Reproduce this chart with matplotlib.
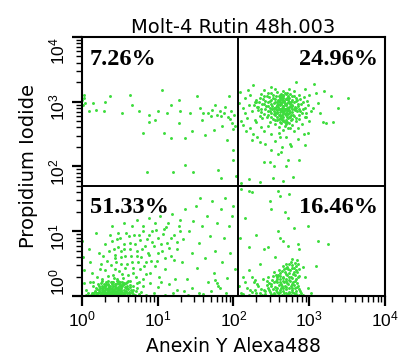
import numpy as np
import matplotlib.pyplot as plt
from matplotlib.ticker import FixedLocator, LogLocator, FuncFormatter, NullFormatter

plt.rcParams['font.family'] = 'DejaVu Sans'
plt.rcParams['mathtext.fontset'] = 'custom'
plt.rcParams['mathtext.rm'] = 'Liberation Sans'
plt.rcParams['mathtext.it'] = 'Liberation Sans'
plt.rcParams['mathtext.default'] = 'rm'

title = 'Molt-4 Rutin 48h.003'
x_label = 'Anexin Y Alexa488'
y_label = 'Propidium Iodide'
gate_x = 115
gate_y = 50
decades = [1, 10, 100, 1000, 10000]
# quadrant percentages: UL, UR, LL, LR
quad_pct = ['7.26%', '24.96%', '51.33%', '16.46%']

# events as (log10 Annexin, log10 PI)
upper_left = [
    (0.02, 3.10), (0.04, 2.98), (0.09, 2.85), (0.15, 2.98), (0.18, 2.87), (0.29, 2.85),
    (0.31, 3.00), (0.37, 3.08), (0.53, 2.82), (0.64, 3.10), (0.66, 2.95), (0.75, 2.85),
    (0.81, 2.51), (0.86, 1.92), (0.88, 2.80), (0.88, 2.69), (0.97, 2.72), (1.01, 2.85),
    (1.06, 3.18), (1.08, 2.51), (1.12, 2.82), (1.17, 2.95), (1.17, 2.44), (1.28, 3.03),
    (1.28, 2.67), (1.30, 2.85), (1.36, 2.44), (1.36, 2.02), (1.43, 2.82), (1.45, 2.54),
    (1.47, 1.92), (1.52, 3.08), (1.56, 2.90), (1.58, 2.72), (1.63, 2.49), (1.67, 2.82),
    (1.72, 2.87), (1.74, 2.56), (1.76, 2.95), (1.80, 1.95), (1.83, 1.82), (1.85, 2.62),
    (1.89, 2.92), (1.91, 2.41), (1.94, 3.08), (1.96, 2.74), (1.98, 2.67), (2.00, 2.26),
    (2.00, 2.10), (2.02, 2.62), (0.00, 3.02), (0.01, 2.95), (0.03, 3.05), (1.78, 2.80),
    (1.82, 2.85), (1.84, 2.78), (1.88, 2.83), (1.93, 2.76), (1.97, 2.86), (2.01, 2.80),
    (1.99, 2.58), (1.70, 2.78), (1.60, 2.82), (1.20, 1.92), (2.03, 1.85),
]

upper_right = [
    # main cluster
    (2.55, 3.19), (2.66, 3.17), (2.74, 3.20),
    (2.45, 3.13), (2.58, 3.15), (2.63, 3.12), (2.71, 3.14), (2.80, 3.16),
    (2.40, 3.09), (2.52, 3.11), (2.60, 3.08), (2.65, 3.10), (2.70, 3.12), (2.77, 3.09), (2.86, 3.11),
    (2.35, 3.05), (2.47, 3.07), (2.55, 3.04), (2.61, 3.06), (2.66, 3.08), (2.69, 3.04),
    (2.74, 3.06), (2.82, 3.05), (2.93, 3.07),
    (2.30, 3.03), (2.42, 3.01), (2.50, 3.02), (2.57, 3.00), (2.62, 3.03), (2.67, 3.01),
    (2.72, 3.02), (2.76, 3.00), (2.84, 3.03), (2.97, 3.01),
    (2.38, 2.97), (2.46, 2.99), (2.54, 2.98), (2.59, 2.96), (2.64, 2.99), (2.68, 2.97),
    (2.71, 2.98), (2.75, 2.96), (2.80, 2.99), (2.89, 2.97),
    (2.27, 2.95), (2.43, 2.93), (2.51, 2.94), (2.56, 2.92), (2.61, 2.95), (2.66, 2.93),
    (2.69, 2.95), (2.73, 2.92), (2.78, 2.94), (2.85, 2.93), (2.99, 2.95),
    (2.36, 2.89), (2.48, 2.91), (2.55, 2.90), (2.60, 2.88), (2.64, 2.91), (2.68, 2.89),
    (2.72, 2.90), (2.77, 2.88), (2.83, 2.91), (2.92, 2.89),
    (2.32, 2.87), (2.45, 2.85), (2.53, 2.86), (2.58, 2.84), (2.63, 2.87), (2.67, 2.85),
    (2.71, 2.86), (2.75, 2.84), (2.81, 2.87), (2.88, 2.85), (3.02, 2.86),
    (2.40, 2.81), (2.50, 2.83), (2.57, 2.82), (2.62, 2.80), (2.66, 2.83), (2.70, 2.81),
    (2.74, 2.82), (2.79, 2.80), (2.90, 2.83),
    (2.44, 2.77), (2.55, 2.79), (2.61, 2.78), (2.65, 2.76), (2.69, 2.79), (2.73, 2.77),
    (2.80, 2.78), (2.95, 2.76),
    (2.38, 2.75), (2.52, 2.73), (2.60, 2.74), (2.66, 2.72), (2.72, 2.75), (2.78, 2.73), (2.86, 2.74),
    (2.48, 2.69), (2.58, 2.71), (2.65, 2.70), (2.71, 2.68), (2.82, 2.70),
    (2.55, 2.65), (2.63, 2.67), (2.70, 2.66), (2.77, 2.64),
    (2.60, 2.61), (2.68, 2.63), (2.75, 2.60),
    (2.66, 2.57), (2.72, 2.59),
    (2.58, 2.93), (2.62, 2.97), (2.66, 2.91), (2.70, 2.95), (2.74, 2.99), (2.60, 3.01),
    (2.64, 2.85), (2.68, 2.81), (2.72, 2.87), (2.56, 2.88), (2.70, 3.04), (2.65, 3.05),
    (2.76, 2.92), (2.63, 2.89), (2.67, 2.99),
    (2.50, 3.13), (2.61, 3.11), (2.68, 3.13), (2.75, 3.12),
    (2.44, 3.08), (2.56, 3.09), (2.63, 3.07), (2.72, 3.08), (2.80, 3.09),
    (2.39, 3.04), (2.52, 3.05), (2.59, 3.03), (2.64, 3.04), (2.71, 3.05), (2.78, 3.03), (2.88, 3.04),
    (2.34, 3.00), (2.48, 3.01), (2.55, 2.99), (2.61, 3.00), (2.66, 3.02), (2.73, 2.99),
    (2.82, 3.01), (2.92, 3.00),
    (2.41, 2.96), (2.49, 2.97), (2.57, 2.95), (2.63, 2.96), (2.70, 2.97), (2.77, 2.95), (2.85, 2.96),
    (2.31, 2.92), (2.46, 2.93), (2.53, 2.91), (2.59, 2.92), (2.65, 2.94), (2.71, 2.91),
    (2.76, 2.93), (2.81, 2.92), (2.95, 2.91),
    (2.42, 2.88), (2.51, 2.89), (2.58, 2.87), (2.62, 2.88), (2.70, 2.89), (2.74, 2.87),
    (2.80, 2.88), (2.87, 2.89),
    (2.37, 2.84), (2.48, 2.85), (2.55, 2.83), (2.61, 2.84), (2.65, 2.85), (2.69, 2.83),
    (2.77, 2.84), (2.84, 2.85), (2.96, 2.83),
    (2.46, 2.80), (2.53, 2.81), (2.60, 2.79), (2.64, 2.80), (2.72, 2.81), (2.76, 2.79), (2.86, 2.80),
    (2.50, 2.76), (2.58, 2.77), (2.63, 2.75), (2.71, 2.76), (2.75, 2.77), (2.83, 2.75),
    (2.55, 2.72), (2.63, 2.73), (2.69, 2.71), (2.76, 2.72),
    (2.61, 2.68), (2.68, 2.69), (2.74, 2.67),
    # shoulder and tail
    (2.12, 2.90), (2.15, 3.05), (2.18, 2.75), (2.20, 2.95), (2.22, 3.10), (2.25, 2.85),
    (2.28, 3.00), (2.30, 2.68), (2.33, 2.92), (2.35, 2.78), (2.37, 3.12), (2.22, 2.60),
    (2.26, 2.50), (2.31, 2.45), (2.40, 2.55), (2.42, 2.35), (2.45, 2.62), (2.50, 2.50),
    (2.55, 2.40), (2.60, 2.52), (2.64, 2.30), (2.70, 2.45), (2.75, 2.35), (2.80, 2.55),
    (2.85, 2.60), (2.90, 2.65), (2.93, 2.50), (3.00, 2.70), (3.05, 2.90), (3.00, 3.10),
    (2.95, 3.20), (2.50, 3.22), (2.40, 3.18), (2.10, 2.70), (2.09, 3.15),
    # sparse events
    (2.08, 2.98), (2.13, 2.64), (2.15, 2.82), (2.17, 2.54), (2.19, 3.18), (2.24, 2.41),
    (2.26, 3.26), (2.28, 2.72), (2.30, 3.00), (2.35, 2.38), (2.37, 2.61), (2.41, 2.07),
    (2.48, 2.07), (2.50, 2.25), (2.52, 1.82), (2.54, 2.00), (2.59, 2.20), (2.61, 2.46),
    (2.63, 2.23), (2.72, 2.10), (2.76, 2.31), (2.79, 1.84), (2.83, 3.31), (2.85, 2.43),
    (2.87, 2.10), (2.94, 2.33), (2.96, 2.77), (2.98, 2.51), (3.07, 3.28), (3.09, 3.13),
    (3.12, 2.98), (3.14, 2.82), (3.18, 2.69), (3.20, 3.16), (3.22, 2.67), (3.29, 3.08),
    (3.31, 2.69), (3.38, 2.90), (3.51, 3.05), (2.10, 1.75), (2.20, 1.80), (2.35, 1.76),
    (2.65, 1.78), (2.70, 2.00),
]

lower_left = [
    # bottom cluster
    (0.12, 0.01), (0.18, 0.02), (0.22, 0.00), (0.26, 0.01), (0.29, 0.03), (0.32, 0.01),
    (0.35, 0.02), (0.38, 0.00), (0.41, 0.01), (0.44, 0.02), (0.47, 0.00), (0.51, 0.01),
    (0.56, 0.02), (0.62, 0.01), (0.70, 0.02),
    (0.15, 0.05), (0.20, 0.04), (0.24, 0.06), (0.27, 0.04), (0.30, 0.05), (0.33, 0.03),
    (0.36, 0.05), (0.39, 0.04), (0.42, 0.06), (0.46, 0.04), (0.50, 0.05), (0.55, 0.03), (0.60, 0.05),
    (0.17, 0.08), (0.23, 0.07), (0.28, 0.09), (0.31, 0.07), (0.34, 0.08), (0.37, 0.06),
    (0.40, 0.08), (0.44, 0.07), (0.48, 0.09), (0.53, 0.07), (0.58, 0.08), (0.66, 0.06),
    (0.20, 0.11), (0.26, 0.10), (0.30, 0.12), (0.34, 0.10), (0.38, 0.11), (0.42, 0.09),
    (0.47, 0.11), (0.52, 0.10), (0.59, 0.12),
    (0.14, 0.15), (0.24, 0.13), (0.31, 0.15), (0.36, 0.14), (0.41, 0.16), (0.45, 0.13),
    (0.50, 0.15), (0.57, 0.14), (0.68, 0.16),
    (0.21, 0.18), (0.29, 0.19), (0.35, 0.17), (0.43, 0.19), (0.49, 0.18), (0.55, 0.20), (0.63, 0.17),
    (0.10, 0.22), (0.27, 0.23), (0.38, 0.21), (0.46, 0.23), (0.53, 0.22), (0.61, 0.24), (0.75, 0.21),
    (0.16, 0.02), (0.21, 0.05), (0.25, 0.03), (0.28, 0.08), (0.31, 0.05), (0.33, 0.01),
    (0.36, 0.09), (0.38, 0.04), (0.40, 0.12), (0.43, 0.03), (0.45, 0.08), (0.49, 0.05),
    (0.52, 0.12), (0.54, 0.02), (0.57, 0.07), (0.61, 0.11), (0.64, 0.04), (0.68, 0.09),
    (0.30, 0.16), (0.34, 0.13), (0.39, 0.19), (0.44, 0.16), (0.47, 0.24), (0.51, 0.17),
    (0.58, 0.20), (0.25, 0.20), (0.19, 0.12), (0.23, 0.16), (0.35, 0.24), (0.42, 0.28),
    (0.13, 0.04), (0.17, 0.06), (0.19, 0.01), (0.22, 0.09), (0.24, 0.02), (0.26, 0.07),
    (0.27, 0.12), (0.29, 0.00), (0.30, 0.09), (0.32, 0.04), (0.33, 0.11), (0.35, 0.06),
    (0.36, 0.00), (0.37, 0.13), (0.39, 0.07), (0.40, 0.02), (0.41, 0.10), (0.43, 0.05),
    (0.44, 0.12), (0.46, 0.07), (0.47, 0.02), (0.48, 0.14), (0.50, 0.08), (0.51, 0.03),
    (0.53, 0.15), (0.55, 0.09), (0.56, 0.05), (0.58, 0.12), (0.60, 0.02), (0.62, 0.07),
    (0.63, 0.14), (0.65, 0.10), (0.67, 0.03), (0.71, 0.08), (0.73, 0.13), (0.78, 0.06),
    (0.28, 0.14), (0.32, 0.18), (0.37, 0.16), (0.41, 0.21), (0.45, 0.19), (0.50, 0.22),
    (0.54, 0.18), (0.60, 0.16), (0.27, 0.05), (0.34, 0.05), (0.42, 0.01), (0.49, 0.11),
    (0.37, 0.03), (0.45, 0.04),
    # spread towards higher PI / Annexin
    (0.09, 0.72), (0.11, 0.52), (0.13, 0.36), (0.15, 0.21), (0.18, 0.98), (0.22, 0.67),
    (0.24, 0.41), (0.26, 0.16), (0.31, 0.80), (0.33, 0.54), (0.35, 0.31), (0.37, 0.95),
    (0.40, 1.08), (0.42, 0.72), (0.44, 0.59), (0.44, 0.41), (0.46, 0.88), (0.46, 0.26),
    (0.48, 0.98), (0.51, 0.70), (0.51, 0.49), (0.53, 0.34), (0.55, 1.13), (0.55, 0.80),
    (0.57, 0.62), (0.57, 0.44), (0.59, 0.21), (0.62, 0.93), (0.64, 0.72), (0.66, 1.08),
    (0.66, 0.52), (0.68, 0.36), (0.70, 0.80), (0.73, 1.18), (0.73, 0.62), (0.75, 0.95),
    (0.77, 0.41), (0.79, 0.72), (0.81, 1.08), (0.81, 0.26), (0.84, 0.52), (0.86, 0.88),
    (0.88, 1.21), (0.88, 0.64), (0.90, 0.36), (0.92, 1.00), (0.95, 0.77), (0.97, 1.13),
    (0.99, 0.54), (1.01, 0.90), (1.03, 1.24), (1.06, 0.70), (1.08, 1.03), (1.10, 0.41),
    (1.12, 0.82), (1.14, 1.13), (1.17, 0.62), (1.19, 1.26), (1.21, 0.95), (1.23, 0.26),
    (1.25, 0.72), (1.28, 1.08), (1.30, 1.18), (1.32, 0.52), (1.34, 0.88), (1.36, 1.34),
    (1.39, 0.26), (1.41, 1.00), (1.45, 0.67), (1.47, 1.16), (1.50, 1.39), (1.52, 0.44),
    (1.54, 0.82), (1.56, 1.52), (1.58, 1.08), (1.63, 0.59), (1.65, 1.24), (1.67, 0.21),
    (1.69, 0.93), (1.72, 1.47), (1.74, 0.36), (1.76, 0.70), (1.78, 1.13), (1.80, 0.16),
    (1.83, 1.34), (1.85, 0.52), (1.87, 0.90), (1.89, 1.52), (1.91, 0.28), (1.94, 1.08),
    (1.96, 0.67), (1.98, 1.24), (2.00, 1.39), (2.02, 0.41),
    (0.20, 0.30), (0.25, 0.50), (0.28, 0.62), (0.30, 0.40), (0.32, 0.22), (0.36, 0.70),
    (0.38, 0.48), (0.39, 0.85), (0.41, 0.33), (0.43, 0.64), (0.45, 0.52), (0.47, 0.76),
    (0.49, 0.38), (0.50, 0.90), (0.52, 0.60), (0.54, 0.28), (0.56, 0.72), (0.58, 0.98),
    (0.60, 0.50), (0.61, 0.32), (0.63, 0.82), (0.65, 0.62), (0.67, 0.44), (0.69, 0.94),
    (0.71, 0.30), (0.72, 0.70), (0.74, 0.52), (0.76, 0.86), (0.78, 0.60), (0.80, 1.00),
    (0.82, 0.46), (0.83, 0.78), (0.85, 0.34), (0.87, 0.66), (0.89, 0.94), (0.91, 0.54),
    (0.93, 0.84), (0.96, 0.46), (0.98, 1.02), (1.00, 0.66), (1.02, 0.30), (1.04, 0.80),
    (1.07, 0.96), (1.09, 0.58), (1.11, 1.06), (1.15, 0.74), (1.18, 0.90), (1.22, 0.56),
    (1.26, 0.84), (1.29, 1.00), (0.27, 0.26), (0.34, 0.18), (0.40, 0.22), (0.48, 0.20),
    (0.56, 0.18), (0.64, 0.24), (0.72, 0.20), (0.80, 0.16), (0.90, 0.20), (1.00, 0.14),
    (1.05, 0.22), (1.15, 0.18), (1.25, 0.10), (1.35, 0.08), (1.45, 0.12), (1.55, 0.05),
    (1.70, 0.08), (1.78, 0.20), (1.76, 0.25), (1.82, 0.12), (0.02, 0.40), (0.01, 0.60),
    (0.03, 0.20), (0.00, 0.85), (0.05, 0.10),
    (0.75, 0.03), (0.85, 0.02), (0.95, 0.05), (1.10, 0.02), (1.20, 0.04), (1.40, 0.02),
    (1.60, 0.03), (1.90, 0.05), (0.05, 0.02), (0.08, 0.05),
]

lower_right = [
    (2.12, 0.03), (2.20, 0.01), (2.30, 0.04), (2.38, 0.02), (2.45, 0.00), (2.50, 0.03),
    (2.55, 0.01), (2.60, 0.04), (2.64, 0.02), (2.68, 0.00), (2.72, 0.03), (2.76, 0.01),
    (2.80, 0.04), (2.86, 0.02), (2.92, 0.01),
    (2.25, 0.07), (2.35, 0.05), (2.42, 0.08), (2.48, 0.06), (2.53, 0.05), (2.58, 0.07),
    (2.62, 0.06), (2.66, 0.08), (2.70, 0.05), (2.74, 0.07), (2.78, 0.06), (2.83, 0.08), (2.89, 0.05),
    (2.18, 0.12), (2.40, 0.10), (2.46, 0.12), (2.52, 0.11), (2.57, 0.13), (2.61, 0.10),
    (2.65, 0.12), (2.69, 0.11), (2.73, 0.13), (2.77, 0.10), (2.81, 0.12), (2.86, 0.11),
    (2.33, 0.15), (2.44, 0.17), (2.50, 0.16), (2.55, 0.14), (2.60, 0.17), (2.64, 0.15),
    (2.68, 0.16), (2.72, 0.18), (2.76, 0.15), (2.80, 0.17), (2.85, 0.16),
    (2.27, 0.22), (2.47, 0.20), (2.53, 0.22), (2.58, 0.21), (2.63, 0.19), (2.67, 0.22),
    (2.71, 0.20), (2.75, 0.23), (2.79, 0.21), (2.84, 0.20),
    (2.39, 0.27), (2.51, 0.25), (2.57, 0.27), (2.62, 0.26), (2.66, 0.24), (2.70, 0.27),
    (2.74, 0.25), (2.78, 0.28), (2.83, 0.26),
    (2.45, 0.30), (2.56, 0.32), (2.61, 0.31), (2.66, 0.29), (2.71, 0.32), (2.76, 0.30),
    (2.81, 0.33), (2.87, 0.31),
    (2.54, 0.37), (2.62, 0.35), (2.68, 0.37), (2.73, 0.36), (2.79, 0.34), (2.84, 0.37),
    (2.60, 0.40), (2.67, 0.42), (2.72, 0.41), (2.78, 0.43), (2.83, 0.40),
    (2.65, 0.47), (2.71, 0.45), (2.77, 0.48), (2.82, 0.46),
    (2.70, 0.50), (2.76, 0.52), (2.81, 0.51),
    (2.78, 0.57), (2.84, 0.55),
    (2.42, 0.03), (2.47, 0.09), (2.52, 0.02), (2.56, 0.10), (2.59, 0.05), (2.63, 0.13),
    (2.67, 0.04), (2.70, 0.14), (2.74, 0.04), (2.78, 0.13), (2.82, 0.03), (2.84, 0.14),
    (2.88, 0.08), (2.49, 0.19), (2.56, 0.24), (2.61, 0.22), (2.65, 0.28), (2.69, 0.24),
    (2.73, 0.29), (2.77, 0.19), (2.81, 0.24), (2.85, 0.29), (2.59, 0.33), (2.64, 0.38),
    (2.70, 0.34), (2.75, 0.40), (2.80, 0.37), (2.86, 0.42), (2.69, 0.44), (2.74, 0.49),
    (2.80, 0.44), (2.85, 0.50), (2.58, 0.29), (2.52, 0.31), (2.44, 0.24), (2.36, 0.11),
    (2.31, 0.19), (2.28, 0.09),
    (2.08, 0.15), (2.10, 0.05), (2.15, 0.22), (2.22, 0.10), (2.25, 0.30), (2.32, 0.00),
    # sparse events
    (2.10, 1.65), (2.21, 1.62), (2.24, 1.60), (2.48, 1.47), (2.59, 1.62), (2.61, 1.54),
    (2.74, 1.57), (2.72, 1.21), (2.59, 1.00), (2.61, 0.90), (2.65, 0.85), (2.72, 0.77),
    (2.85, 0.80), (2.87, 0.72), (2.98, 1.08), (2.41, 0.72), (2.46, 0.75), (2.21, 0.75),
    (3.12, 0.85), (3.09, 0.46), (3.25, 0.80), (2.15, 1.20), (2.30, 0.95), (2.35, 0.50),
    (2.20, 0.40), (2.12, 0.30), (2.28, 0.25), (2.95, 0.30), (2.98, 0.12), (3.02, 0.05),
    (2.92, 0.45), (2.80, 1.05), (2.68, 1.30), (2.09, 0.90), (2.55, 0.60), (2.50, 1.35),
]

fig = plt.figure(figsize=(3.98, 3.58), dpi=100)
ax = fig.add_axes([0.206, 0.173, 0.761, 0.724])

for pts in (upper_left, upper_right, lower_left, lower_right):
    a = np.array(pts)
    ax.scatter(10 ** a[:, 0], 10 ** a[:, 1], s=4.5, marker='o', color='#3ddc3d',
               linewidths=0, zorder=2)

ax.set_xscale('log')
ax.set_yscale('log')
ax.set_xlim(decades[0], decades[-1])
ax.set_ylim(decades[0], decades[-1])

# quadrant gates
ax.axvline(gate_x, color='black', lw=1.4, zorder=3)
ax.axhline(gate_y, color='black', lw=1.4, zorder=3)

for s in ax.spines.values():
    s.set_linewidth(1.5)

fmt = FuncFormatter(lambda v, pos: r'$10^{%d}$' % round(np.log10(v)))
for axis in (ax.xaxis, ax.yaxis):
    axis.set_major_locator(FixedLocator(decades))
    axis.set_minor_locator(LogLocator(base=10, subs=np.arange(2, 10), numticks=10))
    axis.set_major_formatter(fmt)
    axis.set_minor_formatter(NullFormatter())

ax.tick_params(which='major', length=7, width=1.6, labelsize=12.5, pad=3.5)
ax.tick_params(which='minor', length=4, width=1)
ax.tick_params(axis='y', labelrotation=90, pad=3)

ax.set_title(title, fontsize=14, pad=3)
ax.set_xlabel(x_label, fontsize=13.5)
ax.set_ylabel(y_label, fontsize=14)
ax.xaxis.set_label_coords(0.5, -0.158)
ax.yaxis.set_label_coords(-0.145, 0.5)

fig.canvas.draw()
ylabels = ax.get_yticklabels()
ylabels[0].set_va('bottom')
ylabels[-1].set_va('top')

pct_style = dict(transform=ax.transAxes, fontsize=17.5, fontweight='bold',
                 family='Liberation Serif', va='center', zorder=4)
ax.text(0.026, 0.911, quad_pct[0], ha='left', **pct_style)
ax.text(0.977, 0.911, quad_pct[1], ha='right', **pct_style)
ax.text(0.026, 0.34, quad_pct[2], ha='left', **pct_style)
ax.text(0.977, 0.34, quad_pct[3], ha='right', **pct_style)

fig.savefig('out.png', dpi=100)
